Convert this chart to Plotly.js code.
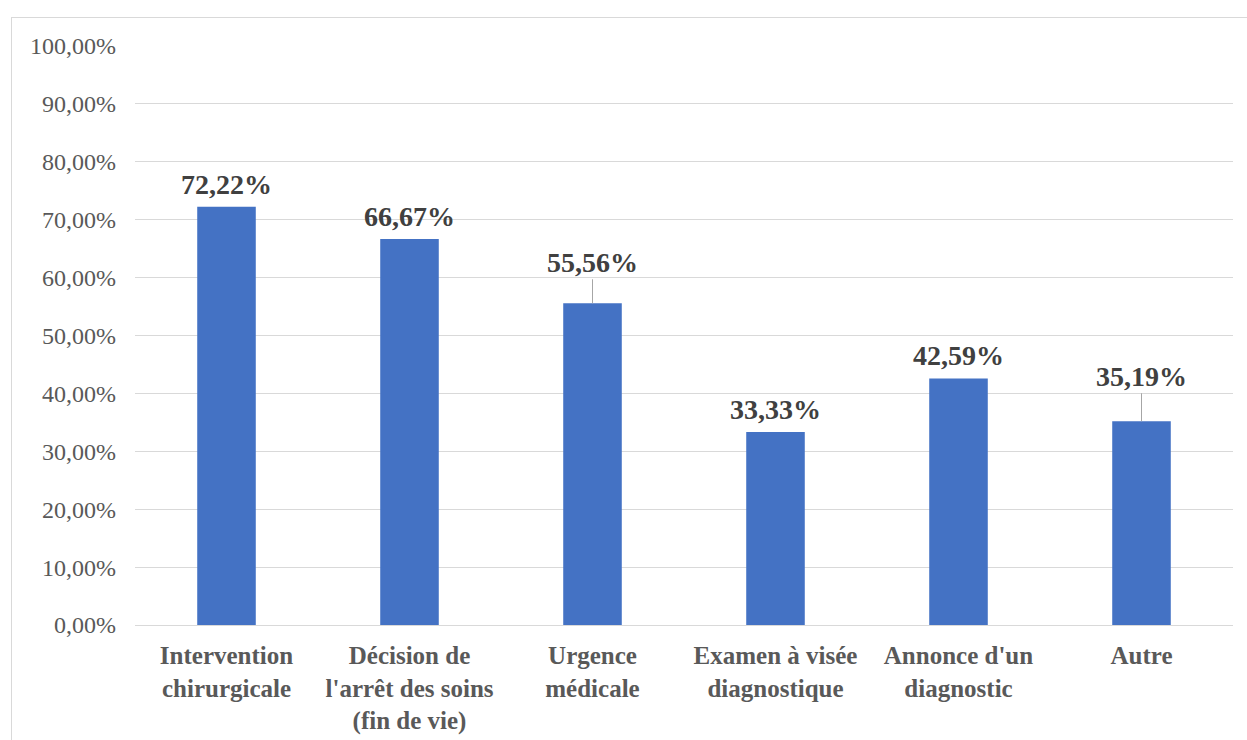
<!DOCTYPE html>
<html>
<head>
<meta charset="utf-8">
<script src="https://cdn.plot.ly/plotly-3.0.1.min.js"></script>
<style>
  html, body { margin: 0; padding: 0; background: #fff; overflow: hidden; }
  #chart { width: 1247px; height: 740px; position: absolute; left: 0; top: 0; }
  #frame { position: absolute; left: 11px; top: 17px; width: 1300px; height: 800px;
           border: 1px solid #d9d9d9; pointer-events: none; }
</style>
</head>
<body>
<div id="chart"></div>
<div id="frame"></div>
<script>
const categories = [
  "Intervention<br>chirurgicale",
  "Décision de<br>l'arrêt des soins<br>(fin de vie)",
  "Urgence<br>médicale",
  "Examen à visée<br>diagnostique",
  "Annonce d'un<br>diagnostic",
  "Autre"
];
const values = [72.22, 66.67, 55.56, 33.33, 42.59, 35.19];
const valueLabels = ["72,22%", "66,67%", "55,56%", "33,33%", "42,59%", "35,19%"];

const FONT = "Liberation Serif, Times New Roman, serif";
const leader = {2: -41, 5: -45};

const annotations = values.map((v, i) => {
  const base = {
    x: i, y: v, xref: 'x', yref: 'y',
    text: '<b>' + valueLabels[i] + '</b>',
    font: {family: FONT, size: 28, color: '#404040'}
  };
  if (leader[i] !== undefined) {
    return Object.assign(base, {
      showarrow: true, ax: 0, ay: leader[i], arrowhead: 0,
      arrowwidth: 1, arrowcolor: '#a6a6a6', standoff: 0, startstandoff: 0
    });
  }
  return Object.assign(base, {showarrow: false, yanchor: 'bottom', yshift: 5});
});

const trace = {
  type: 'bar',
  x: categories.map((c, i) => i),
  y: values,
  width: 0.32,
  marker: {color: '#4472C4'},
  hoverinfo: 'none'
};

const layout = {
  width: 1247, height: 740,
  margin: {l: 135, r: 14, t: 46, b: 115},
  paper_bgcolor: '#ffffff', plot_bgcolor: '#ffffff',
  separators: ', ',
  showlegend: false,
  xaxis: {
    range: [-0.5, categories.length - 0.5],
    tickmode: 'array',
    tickvals: categories.map((c, i) => i),
    ticktext: categories.map(c => '<b>' + c + '</b>'),
    showgrid: false, zeroline: false,
    showline: true, linecolor: '#d9d9d9', linewidth: 1,
    ticks: '', ticklen: 0,
    ticklabelstandoff: 8,
    tickfont: {family: FONT, size: 25, color: '#595959'},
    tickangle: 0
  },
  yaxis: {
    range: [0, 100], dtick: 10, tick0: 0,
    tickformat: '.2f', ticksuffix: '%',
    showgrid: true, gridcolor: '#d9d9d9', gridwidth: 1,
    zeroline: false, showline: false, ticks: '',
    ticklabelstandoff: 18,
    tickfont: {family: FONT, size: 24, color: '#595959'}
  },
  annotations: annotations
};

Plotly.newPlot('chart', [trace], layout, {staticPlot: true, displayModeBar: false});
</script>
</body>
</html>
